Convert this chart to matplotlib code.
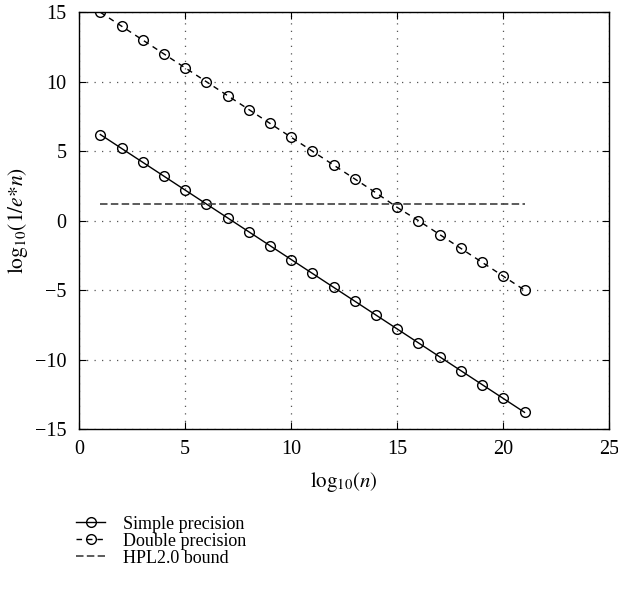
import matplotlib

matplotlib.use("Agg")
import matplotlib.pyplot as plt

plt.rcParams["font.family"] = "serif"
plt.rcParams["font.serif"] = ["Liberation Serif", "DejaVu Serif"]
plt.rcParams["mathtext.fontset"] = "stix"
plt.rcParams.update(
    {
        "font.size": 14.5,
        "axes.linewidth": 1.0,
        "xtick.direction": "in",
        "ytick.direction": "in",
        "xtick.top": True,
        "ytick.right": True,
        "xtick.major.size": 5,
        "ytick.major.size": 5,
        "xtick.major.pad": 8,
        "ytick.major.pad": 9,
    }
)

log_n = list(range(1, 22))
simple_precision = [6.2, 5.2, 4.2, 3.2, 2.2, 1.2, 0.2, -0.8, -1.8, -2.8, -3.8,
                    -4.8, -5.8, -6.8, -7.8, -8.8, -9.8, -10.8, -11.8, -12.8, -13.8]
double_precision = [15, 14, 13, 12, 11, 10, 9, 8, 7, 6, 5,
                    4, 3, 2, 0.95, 0, -1, -2, -3, -4, -5]
hpl_x = [1, 21]
hpl_bound = [1.2, 1.2]

fig = plt.figure(figsize=(6.18, 5.92), dpi=100)
ax = fig.add_axes([0.128, 0.2753, 0.858, 0.704])

ax.plot(log_n, simple_precision, color="black", lw=1.0, marker="o", ms=7,
        mfc="none", mec="black", mew=1.0, label="Simple precision")
ax.plot(log_n, double_precision, color="black", lw=1.0, ls=(0, (4, 3.5)), marker="o", ms=7,
        mfc="none", mec="black", mew=1.0, label="Double precision")
ax.plot(hpl_x, hpl_bound, color="#404040", lw=1.2, ls=(0, (4.5, 2)), label="HPL2.0 bound")

ax.set_xlim(0, 25)
ax.set_ylim(-15, 15)
ax.set_xticks([0, 5, 10, 15, 20, 25])
ax.set_yticks([-15, -10, -5, 0, 5, 10, 15])
ax.set_yticklabels(["\u221215", "\u221210", "\u22125", "0", "5", "10", "15"])
ax.grid(True, ls=(0, (1, 5)), color="#555555", lw=0.9)
ax.set_xlabel(r"$\mathrm{log}_{10}(n)$", fontsize=15, labelpad=8)
ax.set_ylabel(r"$\mathrm{log}_{10}(1/e{*}n)$", fontsize=15.5, labelpad=4)

handles, labels = ax.get_legend_handles_labels()
fig.legend(handles, labels, loc="upper left", bbox_to_anchor=(0.112, 0.141),
           frameon=False, handlelength=1.6, handletextpad=1.0, labelspacing=0.0,
           fontsize=13, borderaxespad=0.0)

fig.savefig("out.png", dpi=100)
